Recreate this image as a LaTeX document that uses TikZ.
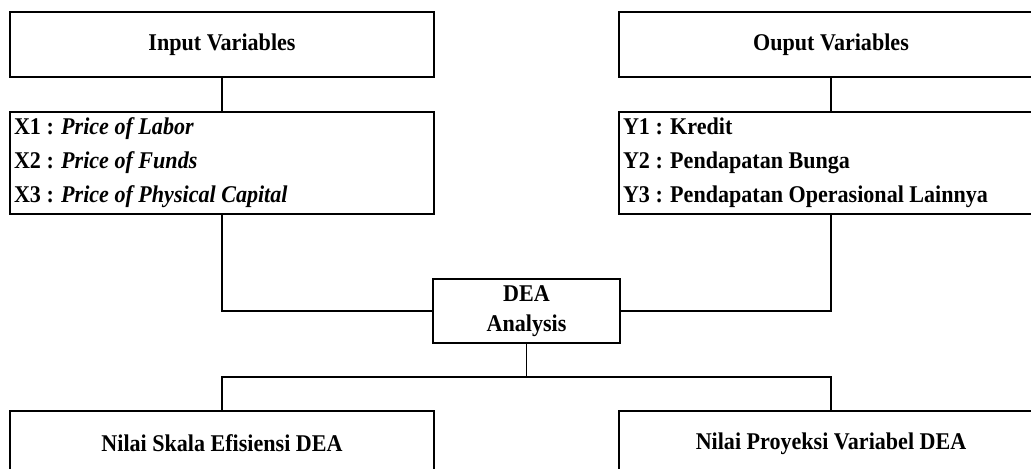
\documentclass[tikz,border=0pt]{standalone}
\usepackage{fontspec}
\setmainfont{Liberation Serif}[FakeStretch=0.92]
\usetikzlibrary{positioning}
\tikzset{%
    head/.style={rectangle, draw, line width=1.3pt, minimum width=318pt, minimum height=48.75pt, inner sep=0pt, font=\bfseries\fontsize{18}{25.5}\selectfont},
    list/.style={rectangle, draw, line width=1.3pt, minimum width=318pt, minimum height=76.5pt, text width=312pt, inner xsep=2.5pt, align=flush left, font=\bfseries\fontsize{18}{25.5}\selectfont},
    dea/.style={rectangle, draw, line width=1.3pt, minimum width=140pt, minimum height=48pt, inner sep=0pt, align=center, font=\bfseries\fontsize{18}{22.5}\selectfont},
    link/.style={draw, line width=1.3pt},
    thinlink/.style={draw, line width=0.9pt}
}
\begin{document}
\begin{tikzpicture}[x=0.75pt, y=-0.75pt]
    \useasboundingbox (0,0) rectangle (1031,468);
    % inputs and outputs
    \node[head] (inhead) at (222,44.5) {Input Variables};
    \node[list, below=24.75pt of inhead] (inlist) {X1 : \textit{Price of Labor}\\X2 : \textit{Price of Funds}\\X3 : \textit{Price of Physical Capital}};
    \node[head] (outhead) at (831,44.5) {Ouput Variables};
    \node[list, below=24.75pt of outhead] (outlist) {Y1 : Kredit\\Y2 : Pendapatan Bunga\\Y3 : Pendapatan Operasional Lainnya};
    % analysis
    \node[dea] (dea) at (526.5,311) {DEA\\Analysis};
    \coordinate (split) at (526.5,377);
    % results
    \node[head] (effbox) at (222,443.5) {Nilai Skala Efisiensi DEA};
    \node[head] (projbox) at (831,443.5) {Nilai Proyeksi Variabel DEA};

    \draw[link] (inhead) -- (inlist);
    \draw[link] (outhead) -- (outlist);
    \draw[link] (inlist.south) |- (dea.west);
    \draw[link] (outlist.south) |- (dea.east);
    \draw[thinlink] (dea.south) -- (split);
    \draw[thinlink] (effbox.north) |- (split) -| (projbox.north);
\end{tikzpicture}
\end{document}
